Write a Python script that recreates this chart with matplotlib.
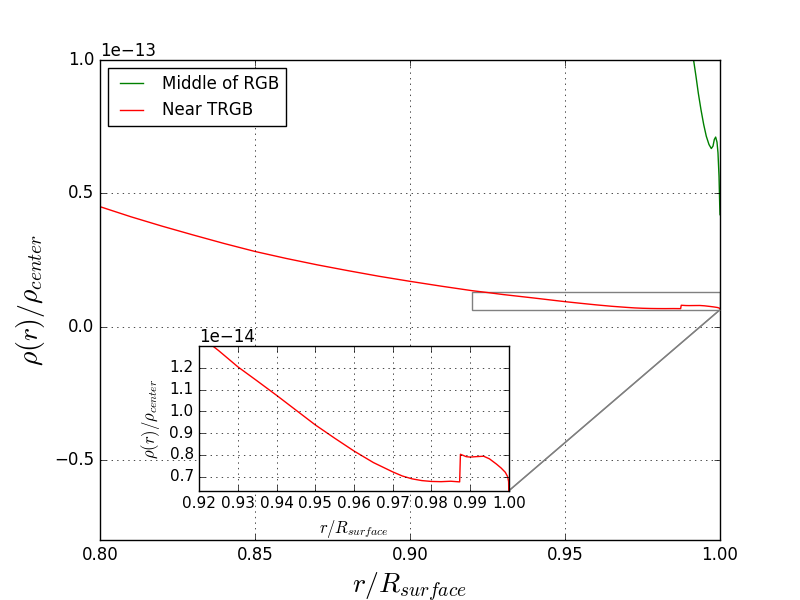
import matplotlib
matplotlib.use('Agg')
import matplotlib.pyplot as plt
import numpy as np
from mpl_toolkits.axes_grid1.inset_locator import mark_inset

plt.style.use('classic')

# density profiles, rho in units of 1e-14
r_rgb = np.array([0.9900, 0.9915, 0.99225, 0.9930, 0.99386, 0.99474, 0.99558,
                  0.99645, 0.9972, 0.99774, 0.99817, 0.9986, 0.99903, 0.99935,
                  0.99968, 0.9999, 1.0])
rho_rgb = np.array([11.2, 9.98, 9.39, 8.76, 8.14, 7.58, 7.14, 6.83, 6.68, 6.77,
                    7.02, 7.11, 6.92, 6.52, 5.65, 4.60, 4.20])

r_trgb = np.array([0.80, 0.81, 0.82, 0.83, 0.84, 0.85, 0.86, 0.87, 0.88, 0.89,
                   0.90, 0.91, 0.92, 0.925, 0.93, 0.935, 0.94, 0.945, 0.95,
                   0.955, 0.96, 0.965, 0.97, 0.9725, 0.975, 0.9775, 0.98,
                   0.9825, 0.985, 0.9873, 0.9875, 0.989, 0.990, 0.9915, 0.9935,
                   0.995, 0.9968, 0.998, 0.9991, 0.9997, 0.99995, 1.0])
rho_trgb = np.array([4.50, 4.12, 3.77, 3.44, 3.12, 2.82, 2.56, 2.32, 2.10, 1.89,
                     1.70, 1.52, 1.35, 1.28, 1.205, 1.14, 1.074, 1.006, 0.938,
                     0.877, 0.818, 0.765, 0.722, 0.703, 0.690, 0.682, 0.678,
                     0.677, 0.679, 0.676, 0.803, 0.792, 0.790, 0.792, 0.794,
                     0.782, 0.758, 0.740, 0.720, 0.700, 0.677, 0.620])

fig = plt.figure(figsize=(8, 6), dpi=100)
ax = fig.add_subplot(111)
ax.plot(r_rgb, rho_rgb * 1e-14, color='green', label='Middle of RGB')
ax.plot(r_trgb, rho_trgb * 1e-14, color='red', label='Near TRGB')
ax.set_xlim(0.8, 1.0)
ax.set_ylim(-0.8e-13, 1.0e-13)
ax.set_xticks([0.80, 0.85, 0.90, 0.95, 1.00])
ax.set_yticks([-0.5e-13, 0.0, 0.5e-13, 1.0e-13])
ax.grid(True)
ax.set_xlabel(r'$r/R_{surface}$', fontsize=20)
ax.set_ylabel(r'$\rho(r)/\rho_{center}$', fontsize=20)
ax.legend(loc='upper left', fontsize=12)

# zoomed inset
axins = fig.add_axes([0.249, 0.182, 0.387, 0.241])
axins.plot(r_trgb, rho_trgb * 1e-14, color='red')
axins.set_xlim(0.92, 1.0)
axins.set_ylim(0.635e-14, 1.30e-14)
axins.set_xticks(np.arange(0.92, 1.0001, 0.01))
axins.set_yticks(np.arange(0.7, 1.21, 0.1) * 1e-14)
axins.tick_params(labelsize=11)
axins.yaxis.get_offset_text().set_fontsize(12)
axins.grid(True)
axins.set_xlabel(r'$r/R_{surface}$', fontsize=12)
axins.set_ylabel(r'$\rho(r)/\rho_{center}$', fontsize=12)

mark_inset(ax, axins, loc1=4, loc2=4, fc='none', ec='0.5')

fig.savefig('out.png', dpi=100, facecolor='white')
